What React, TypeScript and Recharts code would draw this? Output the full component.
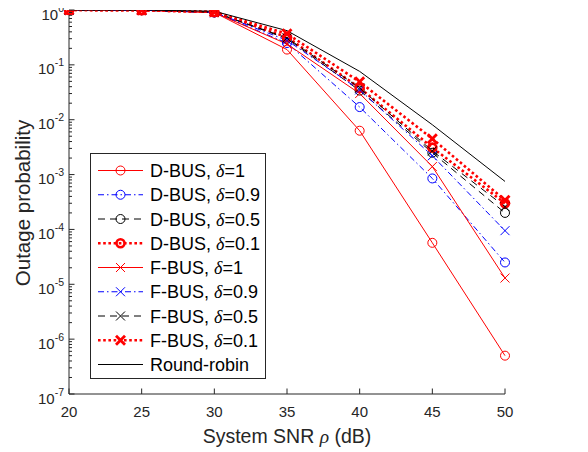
import React from 'react';
import { LineChart, Line, XAxis, YAxis, Legend, Label } from 'recharts';

const SNR_DB = [20, 25, 30, 35, 40, 45, 50];
const X_TICKS = [20, 25, 30, 35, 40, 45, 50];
const Y_DECADES = [1e-7, 1e-6, 1e-5, 1e-4, 1e-3, 1e-2, 1e-1, 1];
const Y_MINOR_STEPS = [2, 3, 4, 5, 6, 7, 8, 9];

const D_BUS_1 = [1, 0.99, 0.9, 0.19, 0.0063, 5.7e-5, 5e-7];
const D_BUS_09 = [1, 0.99, 0.9, 0.25, 0.017, 8.5e-4, 2.5e-5];
const D_BUS_05 = [1, 0.99, 0.91, 0.3, 0.034, 0.0025, 2.0e-4];
const D_BUS_01 = [1, 0.99, 0.92, 0.32, 0.038, 0.0031, 3.0e-4];
const F_BUS_1 = [1, 0.99, 0.9, 0.24, 0.03, 0.0014, 1.3e-5];
const F_BUS_09 = [1, 0.99, 0.91, 0.28, 0.035, 0.0022, 9.5e-5];
const F_BUS_05 = [1, 0.99, 0.91, 0.31, 0.038, 0.0027, 2.6e-4];
const F_BUS_01 = [1, 0.99, 0.92, 0.37, 0.049, 0.0045, 3.4e-4];
const ROUND_ROBIN = [1, 1, 0.95, 0.42, 0.076, 0.0081, 7.5e-4];

const AXIS = '#262626';
const FONT = '"Liberation Sans", Arial, sans-serif';
const SERIF = '"Liberation Serif", "Times New Roman", serif';

type Series = {
  key: string;
  prefix: string;
  delta: string | null;
  values: number[];
  color: string;
  width: number;
  dash?: string;
  marker: 'circle' | 'x' | null;
  markerWidth: number;
};

const SERIES: Series[] = [
  { key: 'd1', prefix: 'D-BUS', delta: '1', values: D_BUS_1, color: '#ff0000', width: 1, marker: 'circle', markerWidth: 1 },
  { key: 'd09', prefix: 'D-BUS', delta: '0.9', values: D_BUS_09, color: '#0000ff', width: 1, dash: '6 3 1.5 3', marker: 'circle', markerWidth: 1 },
  { key: 'd05', prefix: 'D-BUS', delta: '0.5', values: D_BUS_05, color: '#000000', width: 1, dash: '7 5', marker: 'circle', markerWidth: 1 },
  { key: 'd01', prefix: 'D-BUS', delta: '0.1', values: D_BUS_01, color: '#ff0000', width: 2.6, dash: '2.6 2.6', marker: 'circle', markerWidth: 2.6 },
  { key: 'f1', prefix: 'F-BUS', delta: '1', values: F_BUS_1, color: '#ff0000', width: 1, marker: 'x', markerWidth: 1 },
  { key: 'f09', prefix: 'F-BUS', delta: '0.9', values: F_BUS_09, color: '#0000ff', width: 1, dash: '6 3 1.5 3', marker: 'x', markerWidth: 1 },
  { key: 'f05', prefix: 'F-BUS', delta: '0.5', values: F_BUS_05, color: '#000000', width: 1, dash: '7 5', marker: 'x', markerWidth: 1 },
  { key: 'f01', prefix: 'F-BUS', delta: '0.1', values: F_BUS_01, color: '#ff0000', width: 2.6, dash: '2.6 2.6', marker: 'x', markerWidth: 2.8 },
  { key: 'rr', prefix: 'Round-robin', delta: null, values: ROUND_ROBIN, color: '#000000', width: 1, marker: null, markerWidth: 1 },
];

const DATA = SNR_DB.map((x, i) => {
  const row: Record<string, number> = { snr: x };
  SERIES.forEach((s) => {
    row[s.key] = s.values[i];
  });
  return row;
});

const Y_TICKS: number[] = [];
Y_DECADES.forEach((d) => {
  Y_TICKS.push(d);
  if (d < 1) Y_MINOR_STEPS.forEach((m) => Y_TICKS.push(m * d));
});

const isDecade = (v: number) => Math.abs(Math.log10(v) - Math.round(Math.log10(v))) < 1e-6;

const drawMarker = (s: Series, cx: number, cy: number, key?: string) => {
  if (!s.marker) return <g key={key} />;
  if (s.marker === 'circle') {
    return (
      <circle key={key} cx={cx} cy={cy} r={s.markerWidth > 2 ? 4 : 4.5} fill="none" stroke={s.color} strokeWidth={s.markerWidth} />
    );
  }
  const h = 4.5;
  return (
    <g key={key}>
      <line x1={cx - h} y1={cy - h} x2={cx + h} y2={cy + h} stroke={s.color} strokeWidth={s.markerWidth} />
      <line x1={cx - h} y1={cy + h} x2={cx + h} y2={cy - h} stroke={s.color} strokeWidth={s.markerWidth} />
    </g>
  );
};

const LeftTick = (props: any) => {
  const { x, y, payload } = props;
  const v = payload.value;
  const major = isDecade(v);
  const len = major ? 5.5 : 3;
  return (
    <g>
      <line x1={x} y1={y} x2={x + len} y2={y} stroke={AXIS} strokeWidth={1} />
      {major && (
        <text x={x - 5} y={y + 9.5} textAnchor="end" fontSize={15} fill={AXIS} fontFamily={FONT}>
          10
          <tspan fontSize={10.5} dy={-8}>
            {String(Math.round(Math.log10(v)))}
          </tspan>
        </text>
      )}
    </g>
  );
};

const RightTick = (props: any) => {
  const { x, y, payload } = props;
  const len = isDecade(payload.value) ? 5.5 : 3;
  return <line x1={x} y1={y} x2={x - len} y2={y} stroke={AXIS} strokeWidth={1} />;
};

const BottomTick = (props: any) => {
  const { x, y, payload } = props;
  return (
    <g>
      <line x1={x} y1={y} x2={x} y2={y - 5.5} stroke={AXIS} strokeWidth={1} />
      <text x={x} y={y + 23} textAnchor="middle" fontSize={15} fill={AXIS} fontFamily={FONT}>
        {payload.value}
      </text>
    </g>
  );
};

const TopTick = (props: any) => {
  const { x, y } = props;
  return <line x1={x} y1={y} x2={x} y2={y + 5.5} stroke={AXIS} strokeWidth={1} />;
};

const LegendBox = () => (
  <svg width={176} height={226} style={{ display: 'block', overflow: 'visible' }}>
    <rect x={0.5} y={0.5} width={175} height={225} fill="#ffffff" stroke={AXIS} strokeWidth={1} />
    {SERIES.map((s, i) => {
      const cy = 17.5 + i * 24.25;
      return (
        <g key={s.key}>
          <line x1={8} y1={cy} x2={53} y2={cy} stroke={s.color} strokeWidth={s.width} strokeDasharray={s.dash} />
          {drawMarker(s, 30.5, cy)}
          <text x={60} y={cy + 6.5} fontSize={18} fill="#000" fontFamily={FONT}>
            {s.prefix}
            {s.delta !== null && ', '}
            {s.delta !== null && (
              <tspan fontFamily={SERIF} fontStyle="italic">
                δ
              </tspan>
            )}
            {s.delta !== null && '=' + s.delta}
          </text>
        </g>
      );
    })}
  </svg>
);

const makeDot = (s: Series) => (props: any) => drawMarker(s, props.cx, props.cy, `${s.key}-${props.index}`);

export default function App() {
  return (
    <div style={{ margin: '-8px 0 0 -8px', width: 588, height: 452 }}>
      <LineChart width={588} height={452} data={DATA} margin={{ top: 10, right: 83, bottom: 0, left: 0 }}>
        <XAxis
          dataKey="snr"
          type="number"
          domain={[20, 50]}
          ticks={X_TICKS}
          interval={0}
          height={58}
          tickSize={0}
          tickMargin={0}
          tickLine={false}
          tick={<BottomTick />}
          axisLine={{ stroke: AXIS, strokeWidth: 1 }}
        >
          <Label
            content={() => (
              <text x={287} y={443} textAnchor="middle" fontSize={19.5} fill={AXIS} fontFamily={FONT}>
                System SNR{' '}
                <tspan fontFamily={SERIF} fontStyle="italic">
                  ρ
                </tspan>{' '}
                (dB)
              </text>
            )}
          />
        </XAxis>
        <XAxis
          xAxisId="top"
          orientation="top"
          dataKey="snr"
          type="number"
          domain={[20, 50]}
          ticks={X_TICKS}
          interval={0}
          height={0}
          tickSize={0}
          tickMargin={0}
          tickLine={false}
          tick={<TopTick />}
          axisLine={{ stroke: AXIS, strokeWidth: 1 }}
        />
        <YAxis
          type="number"
          scale="log"
          domain={[1e-7, 1]}
          allowDataOverflow
          ticks={Y_TICKS}
          interval={0}
          width={69}
          tickSize={0}
          tickMargin={0}
          tickLine={false}
          tick={<LeftTick />}
          axisLine={{ stroke: AXIS, strokeWidth: 1 }}
        >
          <Label
            content={() => (
              <text
                x={30}
                y={203}
                transform="rotate(-90 30 203)"
                textAnchor="middle"
                fontSize={20.5}
                fill={AXIS}
                fontFamily={FONT}
              >
                Outage probability
              </text>
            )}
          />
        </YAxis>
        <YAxis
          yAxisId="right"
          orientation="right"
          type="number"
          scale="log"
          domain={[1e-7, 1]}
          allowDataOverflow
          ticks={Y_TICKS}
          interval={0}
          width={0}
          tickSize={0}
          tickMargin={0}
          tickLine={false}
          tick={<RightTick />}
          axisLine={{ stroke: AXIS, strokeWidth: 1 }}
        />
        {SERIES.map((s) => (
          <Line
            key={s.key}
            type="linear"
            dataKey={s.key}
            stroke={s.color}
            strokeWidth={s.width}
            strokeDasharray={s.dash}
            dot={makeDot(s)}
            activeDot={false}
            isAnimationActive={false}
          />
        ))}
        <Legend
          layout="vertical"
          align="center"
          verticalAlign="middle"
          content={() => <LegendBox />}
          wrapperStyle={{ left: 90, top: 153, width: 176, height: 226 }}
        />
      </LineChart>
    </div>
  );
}
